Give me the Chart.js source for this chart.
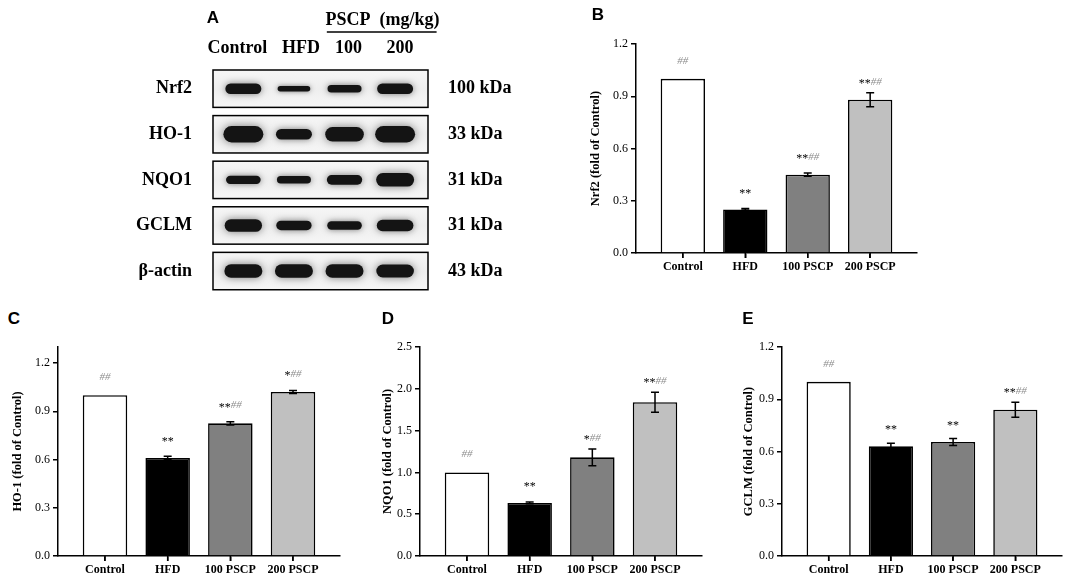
<!DOCTYPE html>
<html>
<head>
<meta charset="utf-8">
<script src="https://cdn.jsdelivr.net/npm/chart.js@4.4.0/dist/chart.umd.min.js"></script>
<style>
  body { margin: 0; background: #fff; }
  #fig { position: relative; width: 1084px; height: 585px; background: #fff; overflow: hidden; }
  .box { position: absolute; }
  .tag { position: absolute; font: bold 17px "Liberation Sans", Arial, sans-serif; color: #000; transform: translate(-50%, -50%); }
</style>
</head>
<body>
<div id="fig">
  <div class="box" style="left:130px;top:0px;width:400px;height:322px"><canvas id="blot"></canvas></div>
  <div class="box" style="left:580px;top:25px;width:350px;height:265px"><canvas id="chartB"></canvas></div>
  <div class="box" style="left:0px;top:335px;width:350px;height:250px"><canvas id="chartC"></canvas></div>
  <div class="box" style="left:360px;top:335px;width:350px;height:250px"><canvas id="chartD"></canvas></div>
  <div class="box" style="left:720px;top:335px;width:364px;height:250px"><canvas id="chartE"></canvas></div>
  <div class="tag" style="left:213px;top:18px">A</div>
  <div class="tag" style="left:598px;top:15px">B</div>
  <div class="tag" style="left:14px;top:319px">C</div>
  <div class="tag" style="left:388px;top:319px">D</div>
  <div class="tag" style="left:748px;top:319px">E</div>
</div>
<script>
// groups on the bar charts
var groups = ['Control', 'HFD', '100 PSCP', '200 PSCP'];
var barColors = ['#ffffff', '#000000', '#808080', '#c0c0c0'];

// Nrf2 (panel B)
var nrf2Mean = [1.0, 0.25, 0.45, 0.88];
var nrf2Err = [0, 0.005, 0.01, 0.04];
var nrf2Stars = ['', '**', '**', '**'];
var nrf2Hash = ['##', '', '##', '##'];
var nrf2Ticks = [0, 0.3, 0.6, 0.9, 1.2];

// HO-1 (panel C)
var ho1Mean = [1.0, 0.61, 0.825, 1.02];
var ho1Err = [0, 0.01, 0.01, 0.01];
var ho1Stars = ['', '**', '**', '*'];
var ho1Hash = ['##', '', '##', '##'];
var ho1Ticks = [0, 0.3, 0.6, 0.9, 1.2];

// NQO1 (panel D)
var nqo1Mean = [1.0, 0.635, 1.18, 1.84];
var nqo1Err = [0, 0.01, 0.1, 0.12];
var nqo1Stars = ['', '**', '*', '**'];
var nqo1Hash = ['##', '', '##', '##'];
var nqo1Ticks = [0, 0.5, 1.0, 1.5, 2.0, 2.5];

// GCLM (panel E)
var gclmMean = [1.0, 0.63, 0.655, 0.84];
var gclmErr = [0, 0.018, 0.02, 0.043];
var gclmStars = ['', '**', '**', '**'];
var gclmHash = ['##', '', '', '##'];
var gclmTicks = [0, 0.3, 0.6, 0.9, 1.2];

// western blot (panel A): band density per lane, 0..1
var lanes = ['Control', 'HFD', '100', '200'];
var proteins = ['Nrf2', 'HO-1', 'NQO1', 'GCLM', '\u03b2-actin'];
var weights = ['100 kDa', '33 kDa', '31 kDa', '31 kDa', '43 kDa'];
var bandNrf2 = [0.5, 0.08, 0.25, 0.5];
var bandHo1 = [1.0, 0.5, 0.83, 1.0];
var bandNqo1 = [0.33, 0.25, 0.42, 0.75];
var bandGclm = [0.67, 0.42, 0.33, 0.58];
var bandActin = [0.75, 0.75, 0.75, 0.7];

var serif = '"Liberation Serif", "Times New Roman", serif';
// header labels sit a little off the lane centres in the figure (px)
var headerNudge = [-6, 7, 4, 5];

// error bars, tick marks under the groups, significance marks on top of bars
var errorBars = {
  id: 'errorBars',
  afterDatasetsDraw: function (chart, args, opts) {
    var ctx = chart.ctx;
    var ys = chart.scales.y;
    var xs = chart.scales.x;
    var meta = chart.getDatasetMeta(0);
    ctx.save();
    ctx.strokeStyle = '#000';
    ctx.lineWidth = 1.5;
    groups.forEach(function (g, i) {
      var px = xs.getPixelForValue(i);
      ctx.beginPath();
      ctx.moveTo(px, chart.chartArea.bottom);
      ctx.lineTo(px, chart.chartArea.bottom + 5);
      ctx.stroke();
    });
    meta.data.forEach(function (bar, i) {
      var m = opts.means[i], e = opts.errs[i];
      var top = ys.getPixelForValue(m + e);
      var bot = ys.getPixelForValue(m - e);
      if (e > 0) {
        ctx.strokeStyle = '#000';
        ctx.lineWidth = 1.5;
        ctx.beginPath();
        ctx.moveTo(bar.x, top); ctx.lineTo(bar.x, bot);
        ctx.moveTo(bar.x - 4, top); ctx.lineTo(bar.x + 4, top);
        ctx.moveTo(bar.x - 4, bot); ctx.lineTo(bar.x + 4, bot);
        ctx.stroke();
      }
      var y = Math.min(bar.y - 18, top - 11);
      var s = opts.stars[i], h = opts.hashes[i];
      ctx.textBaseline = 'middle';
      ctx.textAlign = 'left';
      ctx.font = '12px ' + serif;
      var ws = ctx.measureText(s).width;
      ctx.font = 'italic 11px ' + serif;
      var wh = ctx.measureText(h).width;
      var x0 = bar.x - (ws + wh) / 2;
      ctx.font = '12px ' + serif;
      ctx.fillStyle = '#000';
      ctx.fillText(s, x0, y + 2);
      ctx.font = 'italic 11px ' + serif;
      ctx.fillStyle = '#8c8c8c';
      ctx.fillText(h, x0 + ws, y);
    });
    ctx.restore();
  }
};

function barChart(id, means, errs, stars, hashes, ticks, yMax, title, fit) {
  return new Chart(document.getElementById(id), {
    type: 'bar',
    data: {
      datasets: [{
        data: means.map(function (v, i) { return { x: i, y: v }; }),
        backgroundColor: barColors,
        borderColor: '#000',
        borderWidth: 1.6,
        barPercentage: 0.71,
        categoryPercentage: 1.0
      }]
    },
    options: {
      responsive: true,
      maintainAspectRatio: false,
      animation: false,
      layout: { padding: { top: fit.padTop, right: fit.padRight, left: 0, bottom: 0 } },
      plugins: {
        legend: { display: false },
        tooltip: { enabled: false },
        errorBars: { means: means, errs: errs, stars: stars, hashes: hashes }
      },
      scales: {
        x: {
          type: 'linear',
          offset: false,
          min: -0.75,
          max: 3.75,
          afterBuildTicks: function (s) { s.ticks = groups.map(function (g, i) { return { value: i }; }); },
          afterFit: function (s) { s.height = fit.xHeight; },
          grid: { offset: false, drawOnChartArea: false, drawTicks: true, tickLength: 5, color: '#000', lineWidth: 1.5 },
          border: { display: true, color: '#000', width: 1.5 },
          ticks: {
            color: '#000',
            padding: 2,
            maxRotation: 0,
            autoSkip: false,
            font: { family: serif, size: 12, weight: 'bold' },
            callback: function (v) { return groups[v]; }
          }
        },
        y: {
          min: 0,
          max: yMax,
          afterBuildTicks: function (s) { s.ticks = ticks.map(function (t) { return { value: t }; }); },
          afterFit: function (s) { s.width = fit.yWidth; },
          grid: { drawOnChartArea: false, drawTicks: true, tickLength: 5, color: '#000', lineWidth: 1.5 },
          border: { display: true, color: '#000', width: 1.5 },
          ticks: {
            color: '#000',
            padding: 3,
            font: { family: serif, size: 12 },
            callback: function (v) { return v.toFixed(1); }
          },
          title: {
            display: true,
            text: title,
            color: '#000',
            padding: { top: fit.titlePad, bottom: 0 },
            font: { family: serif, size: 12.5, weight: 'bold' }
          }
        }
      }
    },
    plugins: [errorBars]
  });
}

barChart('chartB', nrf2Mean, nrf2Err, nrf2Stars, nrf2Hash, nrf2Ticks, 1.2, 'Nrf2 (fold of Control)',
  { yWidth: 56, xHeight: 37, padTop: 19, padRight: 13, titlePad: 8 });
barChart('chartC', ho1Mean, ho1Err, ho1Stars, ho1Hash, ho1Ticks, 1.3, 'HO-1 (fold of Control)',
  { yWidth: 58, xHeight: 29, padTop: 12, padRight: 10, titlePad: 10.5 });
barChart('chartD', nqo1Mean, nqo1Err, nqo1Stars, nqo1Hash, nqo1Ticks, 2.5, 'NQO1 (fold of Control)',
  { yWidth: 60, xHeight: 29, padTop: 12, padRight: 8, titlePad: 20 });
barChart('chartE', gclmMean, gclmErr, gclmStars, gclmHash, gclmTicks, 1.2, 'GCLM (fold of Control)',
  { yWidth: 62, xHeight: 29, padTop: 12, padRight: 22, titlePad: 21 });

// blot: membranes, bands, lane headers and the PSCP bracket
var bandRows = [bandNrf2, bandHo1, bandNqo1, bandGclm, bandActin];
var blotPoints = [];
bandRows.forEach(function (row, r) {
  row.forEach(function (d, l) { blotPoints.push({ x: l, y: r, d: d }); });
});

var blotDraw = {
  id: 'blotDraw',
  beforeDatasetsDraw: function (chart) {
    var ctx = chart.ctx, a = chart.chartArea, ys = chart.scales.y, xs = chart.scales.x;
    ctx.save();
    proteins.forEach(function (p, r) {
      var t = ys.getPixelForValue(r - 0.41), b = ys.getPixelForValue(r + 0.41);
      var g = ctx.createLinearGradient(0, t, 0, b);
      g.addColorStop(0, '#f6f6f6'); g.addColorStop(0.5, '#eeeeee'); g.addColorStop(1, '#f6f6f6');
      ctx.fillStyle = g;
      ctx.fillRect(a.left, t, a.right - a.left, b - t);
    });
    var meta = chart.getDatasetMeta(0);
    meta.data.forEach(function (pt, k) {
      var d = blotPoints[k].d;
      var h = 4.5 + 12 * d, w = 32 + 8 * d;
      ctx.shadowColor = 'rgba(0,0,0,0.5)';
      ctx.shadowBlur = 5 + 5 * d;
      ctx.fillStyle = '#141414';
      ctx.beginPath();
      ctx.roundRect(pt.x - w / 2, pt.y - h / 2, w, h, h / 2);
      ctx.fill();
    });
    ctx.shadowBlur = 0;
    ctx.strokeStyle = '#000';
    ctx.lineWidth = 1.5;
    proteins.forEach(function (p, r) {
      var t = ys.getPixelForValue(r - 0.41), b = ys.getPixelForValue(r + 0.41);
      ctx.strokeRect(a.left, t, a.right - a.left, b - t);
    });
    ctx.fillStyle = '#000';
    ctx.font = 'bold 18px ' + serif;
    ctx.textAlign = 'center';
    ctx.textBaseline = 'middle';
    lanes.forEach(function (l, i) {
      ctx.fillText(l, xs.getPixelForValue(i) + headerNudge[i], a.top - 22);
    });
    // PSCP (mg/kg) over the two treated lanes
    ctx.fillText('PSCP  (mg/kg)', xs.getPixelForValue(2.75), a.top - 50);
    ctx.beginPath();
    ctx.moveTo(xs.getPixelForValue(1.65), a.top - 38);
    ctx.lineTo(xs.getPixelForValue(3.82), a.top - 38);
    ctx.stroke();
    ctx.restore();
  }
};

function rowTicks(s) { s.ticks = proteins.map(function (p, i) { return { value: i }; }); }

new Chart(document.getElementById('blot'), {
  type: 'scatter',
  data: { datasets: [{ data: blotPoints, pointRadius: 0 }] },
  options: {
    responsive: true,
    maintainAspectRatio: false,
    animation: false,
    layout: { padding: 0 },
    plugins: { legend: { display: false }, tooltip: { enabled: false } },
    scales: {
      x: {
        type: 'linear', position: 'top', min: -0.6, max: 3.65, offset: false,
        afterBuildTicks: function (s) { s.ticks = lanes.map(function (l, i) { return { value: i }; }); },
        afterFit: function (s) { s.height = 70; },
        grid: { display: false, drawTicks: false },
        border: { display: false },
        ticks: { display: false }
      },
      y: {
        type: 'linear', position: 'left', min: -0.41, max: 4.42, reverse: true,
        afterBuildTicks: rowTicks,
        afterFit: function (s) { s.width = 83; },
        grid: { display: false, drawTicks: false },
        border: { display: false },
        ticks: {
          color: '#000', padding: 21, autoSkip: false,
          font: { family: serif, size: 18, weight: 'bold' },
          callback: function (v) { return proteins[v]; }
        }
      },
      y2: {
        type: 'linear', position: 'right', min: -0.41, max: 4.42, reverse: true,
        afterBuildTicks: rowTicks,
        afterFit: function (s) { s.width = 102; },
        grid: { display: false, drawTicks: false },
        border: { display: false },
        ticks: {
          color: '#000', padding: 20, autoSkip: false,
          font: { family: serif, size: 18, weight: 'bold' },
          callback: function (v) { return weights[v]; }
        }
      }
    }
  },
  plugins: [blotDraw]
});
</script>
</body>
</html>
